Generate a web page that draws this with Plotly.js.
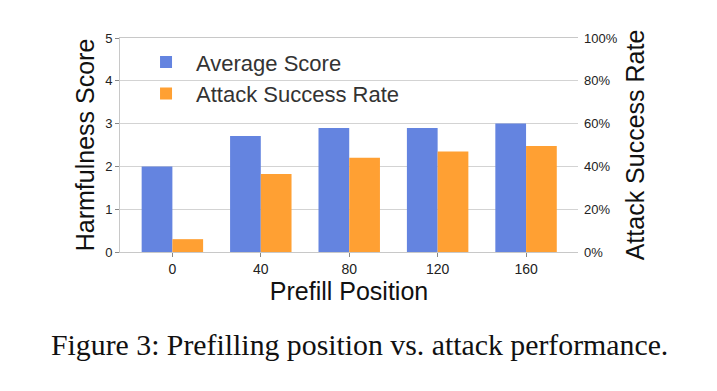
<!DOCTYPE html>
<html>
<head>
<meta charset="utf-8">
<script src="https://cdn.plot.ly/plotly-3.0.1.min.js"></script>
<style>html,body{margin:0;padding:0;background:#fff;}#chart{width:717px;height:391px;}</style>
</head>
<body>
<div id="chart"></div>
<script>
const positions = [0, 40, 80, 120, 160];
const tickLabels = ["0", "40", "80", "120", "160"];
const averageScore = [2.0, 2.71, 2.9, 2.9, 3.0];
const attackSuccessRate = [6, 36.5, 44, 47, 49.5];

const blue = '#6484e0';
const orange = '#ffa033';

const traces = [
  {type: 'bar', name: 'Average Score', x: positions, y: averageScore, yaxis: 'y',
   width: 13.9, offset: -13.9, marker: {color: blue}},
  {type: 'bar', name: 'Attack Success Rate', x: positions, y: attackSuccessRate, yaxis: 'y2',
   width: 13.9, offset: 0, marker: {color: orange}}
];

const layout = {
  width: 717, height: 391,
  margin: {l: 120, r: 139, t: 38, b: 139},
  paper_bgcolor: '#fff', plot_bgcolor: '#fff',
  font: {family: 'Liberation Sans, Arial, sans-serif', color: '#222'},
  showlegend: true,
  legend: {x: 0.035, y: 0.985, xanchor: 'left', yanchor: 'top', bgcolor: 'rgba(255,255,255,0)',
           font: {size: 22, color: '#333'}, itemwidth: 50, tracegroupgap: 2},
  xaxis: {range: [-23.7, 183.5], tickvals: positions, ticktext: tickLabels,
          ticks: 'outside', ticklen: 4, tickcolor: '#888', tickfont: {size: 14, color: '#222'},
          showline: true, linecolor: '#c8c8c8', mirror: true, showgrid: false, zeroline: false,
          title: {text: 'Prefill Position', font: {size: 25, color: '#111'}, standoff: 1}},
  yaxis: {range: [0, 5], dtick: 1, ticks: 'outside', ticklen: 4, tickcolor: '#888',
          tickfont: {size: 13, color: '#222'}, showgrid: true, gridcolor: '#d3d3d3',
          showline: true, linecolor: '#c8c8c8', zeroline: false,
          title: {text: 'Harmfulness Score', font: {size: 25, color: '#111'}, standoff: 3}},
  yaxis2: {range: [0, 100], dtick: 20, ticksuffix: '%', overlaying: 'y', side: 'right',
           ticks: '', ticklabelstandoff: 5, tickfont: {size: 13, color: '#222'},
           showgrid: false, zeroline: false, showline: false,
           title: {text: 'Attack Success Rate', font: {size: 25, color: '#111'}, standoff: 9}},
  annotations: [{
    text: 'Figure 3: Prefilling position vs. attack performance.',
    xref: 'paper', yref: 'paper', x: 0.522, y: -0.43, xanchor: 'center', yanchor: 'middle',
    showarrow: false, font: {family: 'Liberation Serif, Times New Roman, serif', size: 29.8, color: '#111'}
  }]
};

Plotly.newPlot('chart', traces, layout, {displayModeBar: false, staticPlot: true});
</script>
</body>
</html>
